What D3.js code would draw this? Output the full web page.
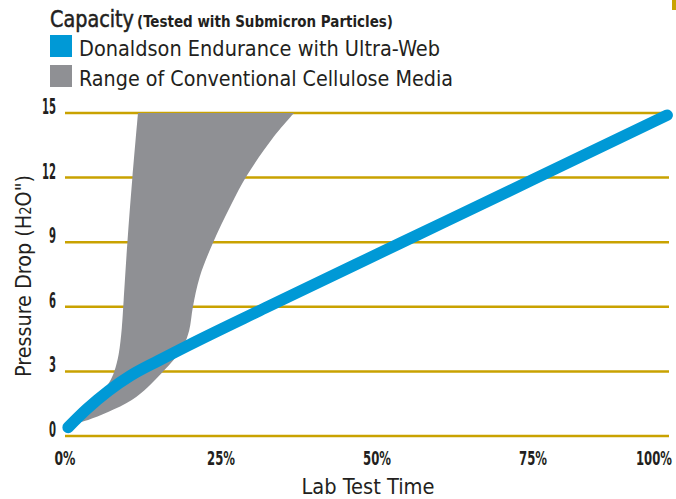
<!DOCTYPE html>
<html>
<head>
<meta charset="utf-8">
<script src="https://cdn.jsdelivr.net/npm/d3@7"></script>
<style>
  body { margin: 0; background: #fff; }
  text { font-family: "Liberation Sans Narrow", "DejaVu Sans Condensed", Roboto, sans-serif; fill: #231f20; }
</style>
</head>
<body>
<svg id="chart" width="676" height="499"></svg>
<script>
// ticks
const xTicks = [0, 25, 50, 75, 100];
const yTicks = [0, 3, 6, 9, 12, 15];

// Donaldson Endurance with Ultra-Web: [lab test time %, pressure drop]
const ultraWeb = [
    [0.5, 0.4], [3.5, 1.25], [7.0, 2.1], [10.5, 2.8], [15.0, 3.5],
    [19.7, 4.2], [32.1, 5.95], [53.7, 8.95], [75.3, 11.95], [96.5, 14.9]
];

// Range of conventional cellulose media: upper/left edge (bottom to top)
const celluloseHigh = [
    [0.5, 0.4], [3.2, 1.2], [5.6, 1.95], [7.1, 2.5], [7.9, 3.0], [8.6, 3.8],
    [9.1, 5.0], [9.4, 6.3], [10.0, 9.0], [10.8, 12.0], [11.7, 15]
];
// lower/right edge (top to bottom)
const celluloseLow = [
    [36.7, 15], [33.3, 13.84], [29.2, 12.12], [26.6, 10.73], [23.7, 8.96], [21.6, 7.4],
    [20.5, 6.0], [19.9, 4.9], [19.0, 4.2], [17.6, 3.6], [15.5, 2.93], [13.3, 2.28],
    [10.7, 1.67], [6.9, 1.11], [3.7, 0.74], [2.1, 0.6], [0.5, 0.4]
];

const blue = "#0099d6";
const gray = "#8f9094";
const gold = "#c9a200";

const svg = d3.select("#chart");

const xScale = d3.scaleLinear().domain([0, 100]).range([65, 689]);
const yScale = d3.scaleLinear().domain([0, 15]).range([436, 113]);

// gridlines
svg.append("g")
    .selectAll("line")
    .data(yTicks)
    .enter()
    .append("line")
    .attr("x1", 65)
    .attr("x2", 669)
    .attr("y1", d => yScale(d))
    .attr("y2", d => yScale(d))
    .attr("stroke", gold)
    .attr("stroke-width", 2.5);

// little gold mark top right
svg.append("rect").attr("x", 672).attr("y", 0).attr("width", 4).attr("height", 10).attr("fill", gold);

// cellulose range area
const edge = d3.line()
    .x(d => xScale(d[0]))
    .y(d => yScale(d[1]))
    .curve(d3.curveCatmullRom.alpha(0.5));

svg.append("path")
    .attr("d", edge(celluloseHigh) + edge(celluloseLow).replace(/^M/, "L") + "Z")
    .attr("fill", gray);

// ultra-web line
const webLine = d3.line()
    .x(d => xScale(d[0]))
    .y(d => yScale(d[1]))
    .curve(d3.curveMonotoneX);

svg.append("path")
    .datum(ultraWeb)
    .attr("d", webLine)
    .attr("fill", "none")
    .attr("stroke", blue)
    .attr("stroke-width", 11.5)
    .attr("stroke-linecap", "round")
    .attr("stroke-linejoin", "round");

// y tick labels
svg.append("g")
    .selectAll("text")
    .data(yTicks)
    .enter()
    .append("text")
    .attr("x", 56)
    .attr("y", d => yScale(d) + 1)
    .attr("text-anchor", "end")
    .attr("font-size", 21)
    .attr("font-weight", "bold")
    .attr("textLength", d => d >= 10 ? 14 : 7)
    .attr("lengthAdjust", "spacingAndGlyphs")
    .text(d => d);

// x tick labels, squeezed to condensed width (100% is pulled in to the edge)
svg.append("g")
    .selectAll("text")
    .data(xTicks)
    .enter()
    .append("text")
    .attr("text-anchor", "middle")
    .attr("font-size", 20)
    .attr("font-weight", "bold")
    .text(d => d + "%")
    .attr("transform", function(d) {
        const w = d === 0 ? 21 : d === 100 ? 36 : 28;
        const sx = w / this.getComputedTextLength();
        return `translate(${Math.min(xScale(d), 654)}, 465) scale(${sx}, 1)`;
    });

// axis titles
svg.append("text")
    .attr("x", 368)
    .attr("y", 494)
    .attr("text-anchor", "middle")
    .attr("font-size", 21)
    .attr("textLength", 133)
    .attr("lengthAdjust", "spacingAndGlyphs")
    .text("Lab Test Time");

const yTitle = svg.append("text")
    .attr("transform", "translate(31, 276) rotate(-90)")
    .attr("text-anchor", "middle")
    .attr("font-size", 22)
    .attr("textLength", 202)
    .attr("lengthAdjust", "spacingAndGlyphs");
yTitle.append("tspan").text("Pressure Drop (H");
yTitle.append("tspan").attr("font-size", 15).text("2");
yTitle.append("tspan").text("O\")");

// title and legend
svg.append("text")
    .attr("x", 50).attr("y", 27)
    .attr("font-size", 23)
    .attr("stroke", "#231f20")
    .attr("stroke-width", 0.5)
    .attr("textLength", 84)
    .attr("lengthAdjust", "spacingAndGlyphs")
    .text("Capacity");
svg.append("text")
    .attr("x", 137).attr("y", 27)
    .attr("font-size", 16)
    .attr("font-weight", "bold")
    .attr("textLength", 256)
    .attr("lengthAdjust", "spacingAndGlyphs")
    .text("(Tested with Submicron Particles)");

const legendItems = [
    { label: "Donaldson Endurance with Ultra-Web", color: blue, y: 35, w: 361 },
    { label: "Range of Conventional Cellulose Media", color: gray, y: 65, w: 374 }
];
const legend = svg.append("g")
    .selectAll("g")
    .data(legendItems)
    .enter()
    .append("g");
legend.append("rect")
    .attr("x", 50)
    .attr("y", d => d.y)
    .attr("width", 22)
    .attr("height", 22)
    .attr("fill", d => d.color);
legend.append("text")
    .attr("x", 79)
    .attr("y", d => d.y + 21)
    .attr("font-size", 22)
    .attr("textLength", d => d.w)
    .attr("lengthAdjust", "spacingAndGlyphs")
    .text(d => d.label);
</script>
</body>
</html>
